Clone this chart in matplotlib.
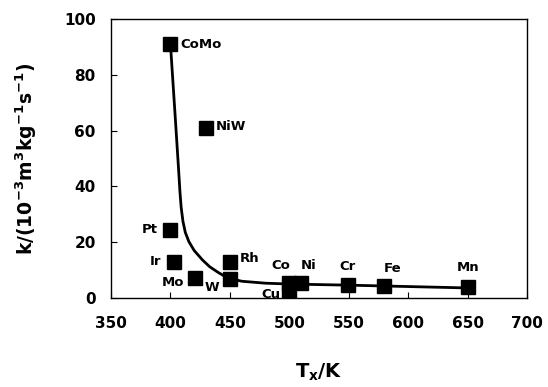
import matplotlib
matplotlib.use('Agg')
import matplotlib.pyplot as plt

plt.rcParams['font.family'] = ['DejaVu Sans']
plt.rcParams['font.weight'] = 'bold'
plt.rcParams['mathtext.fontset'] = 'custom'
plt.rcParams['mathtext.rm'] = 'DejaVu Sans:bold'
plt.rcParams['mathtext.it'] = 'DejaVu Sans:bold'
plt.rcParams['mathtext.default'] = 'rm'

# catalysts: crystallization temperature Tx (K) and rate constant k
names = ['CoMo', 'NiW', 'Pt', 'Ir', 'Mo', 'Rh', 'W', 'Co', 'Ni', 'Cu', 'Cr', 'Fe', 'Mn']
tx = [400, 430, 400, 403, 421, 450, 450, 500, 510, 500, 549, 580, 650]
k = [91, 61, 24.5, 13, 7, 12.8, 6.8, 5.3, 5.3, 1.9, 4.8, 4.4, 4.0]

# hand-drawn trend curve
curve_tx = [400, 402, 404, 405.5, 407, 408, 409, 410.5, 412.5, 415.5, 420, 427, 433,
            440, 448, 460, 480, 500, 550, 600, 650]
curve_k = [91, 78, 65, 55, 45, 38, 32.5, 27.5, 23.5, 20.2, 17, 13.6, 11.2,
           9.2, 7.2, 6.0, 5.3, 5.0, 4.6, 4.1, 3.6]

# label offsets in points (dx, dy, ha, va)
label_pos = {
    'CoMo': (7, 0, 'left', 'center'),
    'NiW': (7, 1, 'left', 'center'),
    'Pt': (-9, 0, 'right', 'center'),
    'Ir': (-9, 0, 'right', 'center'),
    'Mo': (-8, -3, 'right', 'center'),
    'Rh': (7, 3, 'left', 'center'),
    'W': (-8, -6, 'right', 'center'),
    'Co': (-6, 8, 'center', 'bottom'),
    'Ni': (5, 8, 'center', 'bottom'),
    'Cu': (-6, -1, 'right', 'center'),
    'Cr': (0, 8, 'center', 'bottom'),
    'Fe': (6, 8, 'center', 'bottom'),
    'Mn': (0, 9, 'center', 'bottom'),
}

fig, ax = plt.subplots(figsize=(5.48, 3.87), dpi=100)
fig.subplots_adjust(left=0.2026, right=0.9617, top=0.951, bottom=0.230)

ax.plot(curve_tx, curve_k, color='black', linewidth=2.0, zorder=2,
        solid_joinstyle='round')
ax.plot(tx, k, linestyle='none', marker='s', markersize=10,
        color='black', zorder=3)

for n, x, y in zip(names, tx, k):
    dx, dy, ha, va = label_pos[n]
    ax.annotate(n, (x, y), xytext=(dx, dy), textcoords='offset points',
                ha=ha, va=va, fontsize=9.5, fontweight='bold')

ax.set_xlim(350, 700)
ax.set_ylim(0, 100)
ax.set_xticks(range(350, 701, 50))
ax.set_yticks(range(0, 101, 20))
ax.tick_params(direction='in', length=4, width=0.8, labelsize=11)
ax.tick_params(axis='x', pad=13)
ax.tick_params(axis='y', pad=11)
for lab in ax.get_xticklabels() + ax.get_yticklabels():
    lab.set_fontweight('bold')

for s in ax.spines.values():
    s.set_linewidth(1.0)

ax.set_ylabel(r'k/(10$^{-3}$m$^{3}$kg$^{-1}$s$^{-1}$)', fontsize=13.5,
              fontweight='bold', labelpad=18)
ax.set_xlabel(r'T$_{x}$/K', fontsize=14, fontweight='bold', labelpad=22)

fig.savefig('out.png', dpi=100)
